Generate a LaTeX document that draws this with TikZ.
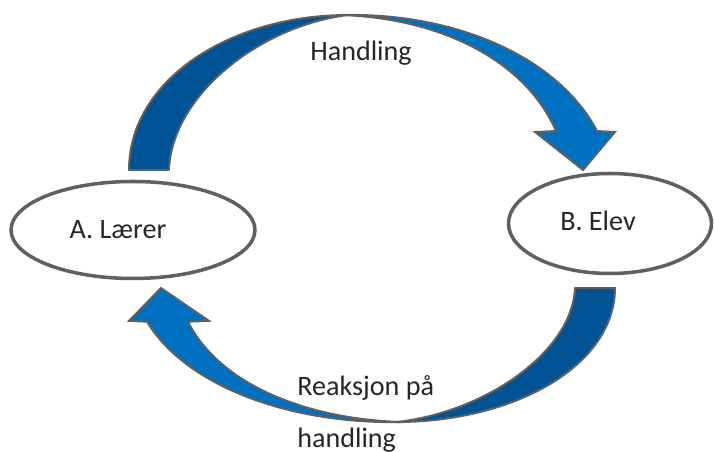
\documentclass[tikz,border=0pt]{standalone}
\usepackage{fontspec}
\setmainfont{Carlito}
\definecolor{banddark}{RGB}{0,84,150}
\definecolor{bandlight}{RGB}{0,112,192}
\definecolor{rimgray}{RGB}{96,96,96}
\definecolor{inkgray}{RGB}{38,38,38}
\usetikzlibrary{shapes.geometric}

\tikzset{
  backband/.style={fill=banddark, draw=rimgray, line width=1.1pt, line join=round},
  frontband/.style={fill=bandlight, draw=rimgray, line width=1.1pt, line join=miter},
  person/.style={ellipse, draw=rimgray, fill=white, line width=2pt},
  caption/.style={inkgray, font=\fontsize{16}{29.5}\selectfont, inner sep=0pt}
}

% one bent block arrow: dark rear half, light front half with the head
\newcommand{\loopband}{%
  \filldraw[backband] (2.58,5.64) .. controls (2.58,7.44) and (4.60,8.74) .. (6.96,8.74)
    .. controls (5.20,8.52) and (3.44,7.14) .. (3.38,5.64) -- cycle;
  \filldraw[frontband] (6.80,8.74) .. controls (9.20,8.80) and (11.20,7.84) .. (11.94,6.42)
    -- (12.30,6.40) -- (11.66,5.64) -- (10.70,6.40) -- (11.12,6.42)
    .. controls (10.50,7.84) and (8.80,8.68) .. (6.80,8.74) -- cycle;
}

\begin{document}
\begin{tikzpicture}
  \useasboundingbox (0,0) rectangle (14.28,9.04);

  % upper arrow, then the same arrow turned round (and a bit flatter) for the lower one
  \loopband
  \begin{scope}[yshift=3.28cm, yscale=0.865, yshift=-3.28cm,
                rotate around={180:(7.44,4.46)}]
    \loopband
  \end{scope}

  % the two parties
  \node[person, minimum width=4.88cm, minimum height=1.94cm] (laerer) at (2.66,4.44) {};
  \node[person, minimum width=4.06cm, minimum height=2.0cm] (elev) at (12.2,4.57) {};
  \node[caption] (laerertxt) at ([xshift=-3mm]laerer.center) {A. Lærer};
  \node[caption] (elevtxt) at (11.96,4.63) {B. Elev};

  % labels on the arrows (base is the last line here)
  \node[caption, anchor=base] (handling) at (7.22,7.82) {Handling};
  \node[caption, anchor=base west, align=left] (reaksjon) at (5.94,0.09)
    {Reaksjon på\\handling};
\end{tikzpicture}
\end{document}
